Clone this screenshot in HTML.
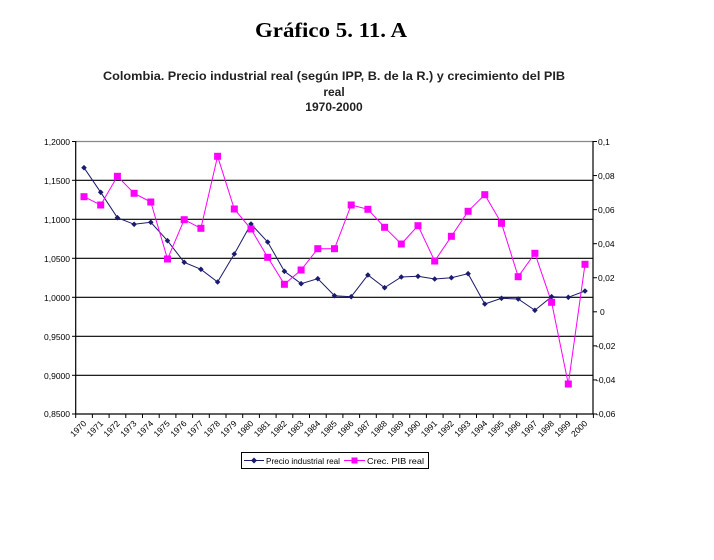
<!DOCTYPE html>
<html><head><meta charset="utf-8"><style>
html,body{margin:0;padding:0;background:#fff;}
svg{display:block;}
</style></head><body>
<svg width="714" height="560" viewBox="0 0 714 560" xmlns="http://www.w3.org/2000/svg">
<text x="331" y="37" text-anchor="middle" font-family="Liberation Serif, serif" font-weight="bold" font-size="21" textLength="152" lengthAdjust="spacingAndGlyphs">Gráfico 5. 11. A</text>
<g font-family="Liberation Sans, sans-serif" font-weight="bold" font-size="12" text-anchor="middle" fill="#222">
<text x="334" y="80" textLength="462" lengthAdjust="spacingAndGlyphs">Colombia. Precio industrial real (según IPP, B. de la R.) y crecimiento del PIB</text>
<text x="334" y="96">real</text>
<text x="334" y="111">1970-2000</text>
</g>
<g stroke="#000" stroke-width="1.2">
<line x1="75.7" y1="141.5" x2="593" y2="141.5" stroke="#888"/>
<line x1="75.7" y1="180.3" x2="593" y2="180.3"/>
<line x1="75.7" y1="219.3" x2="593" y2="219.3"/>
<line x1="75.7" y1="258.3" x2="593" y2="258.3"/>
<line x1="75.7" y1="297.3" x2="593" y2="297.3"/>
<line x1="75.7" y1="336.3" x2="593" y2="336.3"/>
<line x1="75.7" y1="375.3" x2="593" y2="375.3"/>
<line x1="75.7" y1="414" x2="593" y2="414"/>
<line x1="75.7" y1="141" x2="75.7" y2="414"/>
<line x1="593" y1="141" x2="593" y2="414"/>
</g>
<g stroke="#000" stroke-width="1" id="ticks"></g>
<g font-family="Liberation Sans, sans-serif" font-size="8.5" fill="#000" text-anchor="end">
<text x="70" y="145">1,2000</text><text x="70" y="184">1,1500</text><text x="70" y="223">1,1000</text><text x="70" y="262">1,0500</text><text x="70" y="301">1,0000</text><text x="70" y="340">0,9500</text><text x="70" y="379">0,9000</text><text x="70" y="417">0,8500</text>
</g>
<g font-family="Liberation Sans, sans-serif" font-size="8.5" fill="#000">
<text x="598" y="145">0,1</text><text x="598" y="179">0,08</text><text x="598" y="213">0,06</text><text x="598" y="247">0,04</text><text x="598" y="281">0,02</text><text x="600" y="315">0</text><text x="596" y="349">-0,02</text><text x="596" y="383">-0,04</text><text x="596" y="417">-0,06</text>
</g>
<g id="xl" font-family="Liberation Sans, sans-serif" font-size="8.5" fill="#000"></g>
<polyline fill="none" stroke="#1a1a6e" stroke-width="1" points="84,167.7 100.7,192.3 117.4,217.7 134.1,224.3 150.8,222.3 167.5,240.7 184.2,262.3 200.9,269.3 217.6,282 234.3,254 251,224 267.7,242 284.4,271.3 301.1,283.7 317.8,278.7 334.5,295.7 351.2,296.7 367.9,275 384.6,287.7 401.3,277 418,276.3 434.7,279 451.4,277.7 468.1,273.7 484.8,304 501.5,298.3 518.2,299 534.9,310.3 551.6,296.7 568.3,297.3 585,291"/>
<polyline fill="none" stroke="#ff00ff" stroke-width="1" points="84,196.7 100.7,205 117.4,176.3 134.1,193.3 150.8,202 167.5,259 184.2,219.7 200.9,228.3 217.6,156.3 234.3,209 251,229 267.7,257.3 284.4,284.3 301.1,270 317.8,248.7 334.5,248.7 351.2,205 367.9,209.3 384.6,227.3 401.3,244 418,225.7 434.7,261 451.4,236.3 468.1,211.3 484.8,194.7 501.5,223.3 518.2,276.7 534.9,253.3 551.6,302.3 568.3,384 585,264.3"/>
<g id="mk"></g>
<rect x="241.5" y="452.5" width="187" height="16" fill="#fff" stroke="#000"/>
<line x1="244" y1="460.5" x2="264" y2="460.5" stroke="#1a1a6e"/>
<path d="M254 457.5 L257 460.5 L254 463.5 L251 460.5Z" fill="#1a1a6e"/>
<line x1="344" y1="460.5" x2="365" y2="460.5" stroke="#ff00ff"/>
<rect x="351.5" y="457.5" width="6" height="6" fill="#ff00ff"/>
<g font-family="Liberation Sans, sans-serif" font-size="8.5" fill="#000">
<text x="266" y="464" textLength="74" lengthAdjust="spacingAndGlyphs">Precio industrial real</text>
<text x="367" y="464" textLength="57" lengthAdjust="spacingAndGlyphs">Crec. PIB real</text>
</g>
<script>
var ns="http://www.w3.org/2000/svg";
var t=document.getElementById("ticks"),xl=document.getElementById("xl"),mk=document.getElementById("mk");
function el(n,a,p){var e=document.createElementNS(ns,n);for(var k in a)e.setAttribute(k,a[k]);p.appendChild(e);return e;}
[141.5,180.3,219.3,258.3,297.3,336.3,375.3,414].forEach(function(y){el("line",{x1:72,y1:y,x2:75.7,y2:y},t);});
for(var i=0;i<9;i++){var y=141.5+i*34.06;el("line",{x1:593,y1:y,x2:597,y2:y},t);}
for(var i=0;i<=31;i++){var x=75.7+i*16.7;el("line",{x1:x,y1:414,x2:x,y2:418},t);}
for(var i=0;i<31;i++){var x=84+i*16.7;var tx=el("text",{x:0,y:0,"text-anchor":"end",transform:"translate("+(x+3)+",424) rotate(-45)"},xl);tx.textContent=1970+i;}
var b=[167.7,192.3,217.7,224.3,222.3,240.7,262.3,269.3,282,254,224,242,271.3,283.7,278.7,295.7,296.7,275,287.7,277,276.3,279,277.7,273.7,304,298.3,299,310.3,296.7,297.3,291];
var p=[196.7,205,176.3,193.3,202,259,219.7,228.3,156.3,209,229,257.3,284.3,270,248.7,248.7,205,209.3,227.3,244,225.7,261,236.3,211.3,194.7,223.3,276.7,253.3,302.3,384,264.3];
for(var i=0;i<31;i++){var x=84+i*16.7;
el("path",{d:"M"+x+" "+(b[i]-2.8)+" L"+(x+2.8)+" "+b[i]+" L"+x+" "+(b[i]+2.8)+" L"+(x-2.8)+" "+b[i]+"Z",fill:"#1a1a6e"},mk);
el("rect",{x:x-3.5,y:p[i]-3.5,width:7,height:7,fill:"#ff00ff"},mk);}
</script>
</svg>
</body></html>
